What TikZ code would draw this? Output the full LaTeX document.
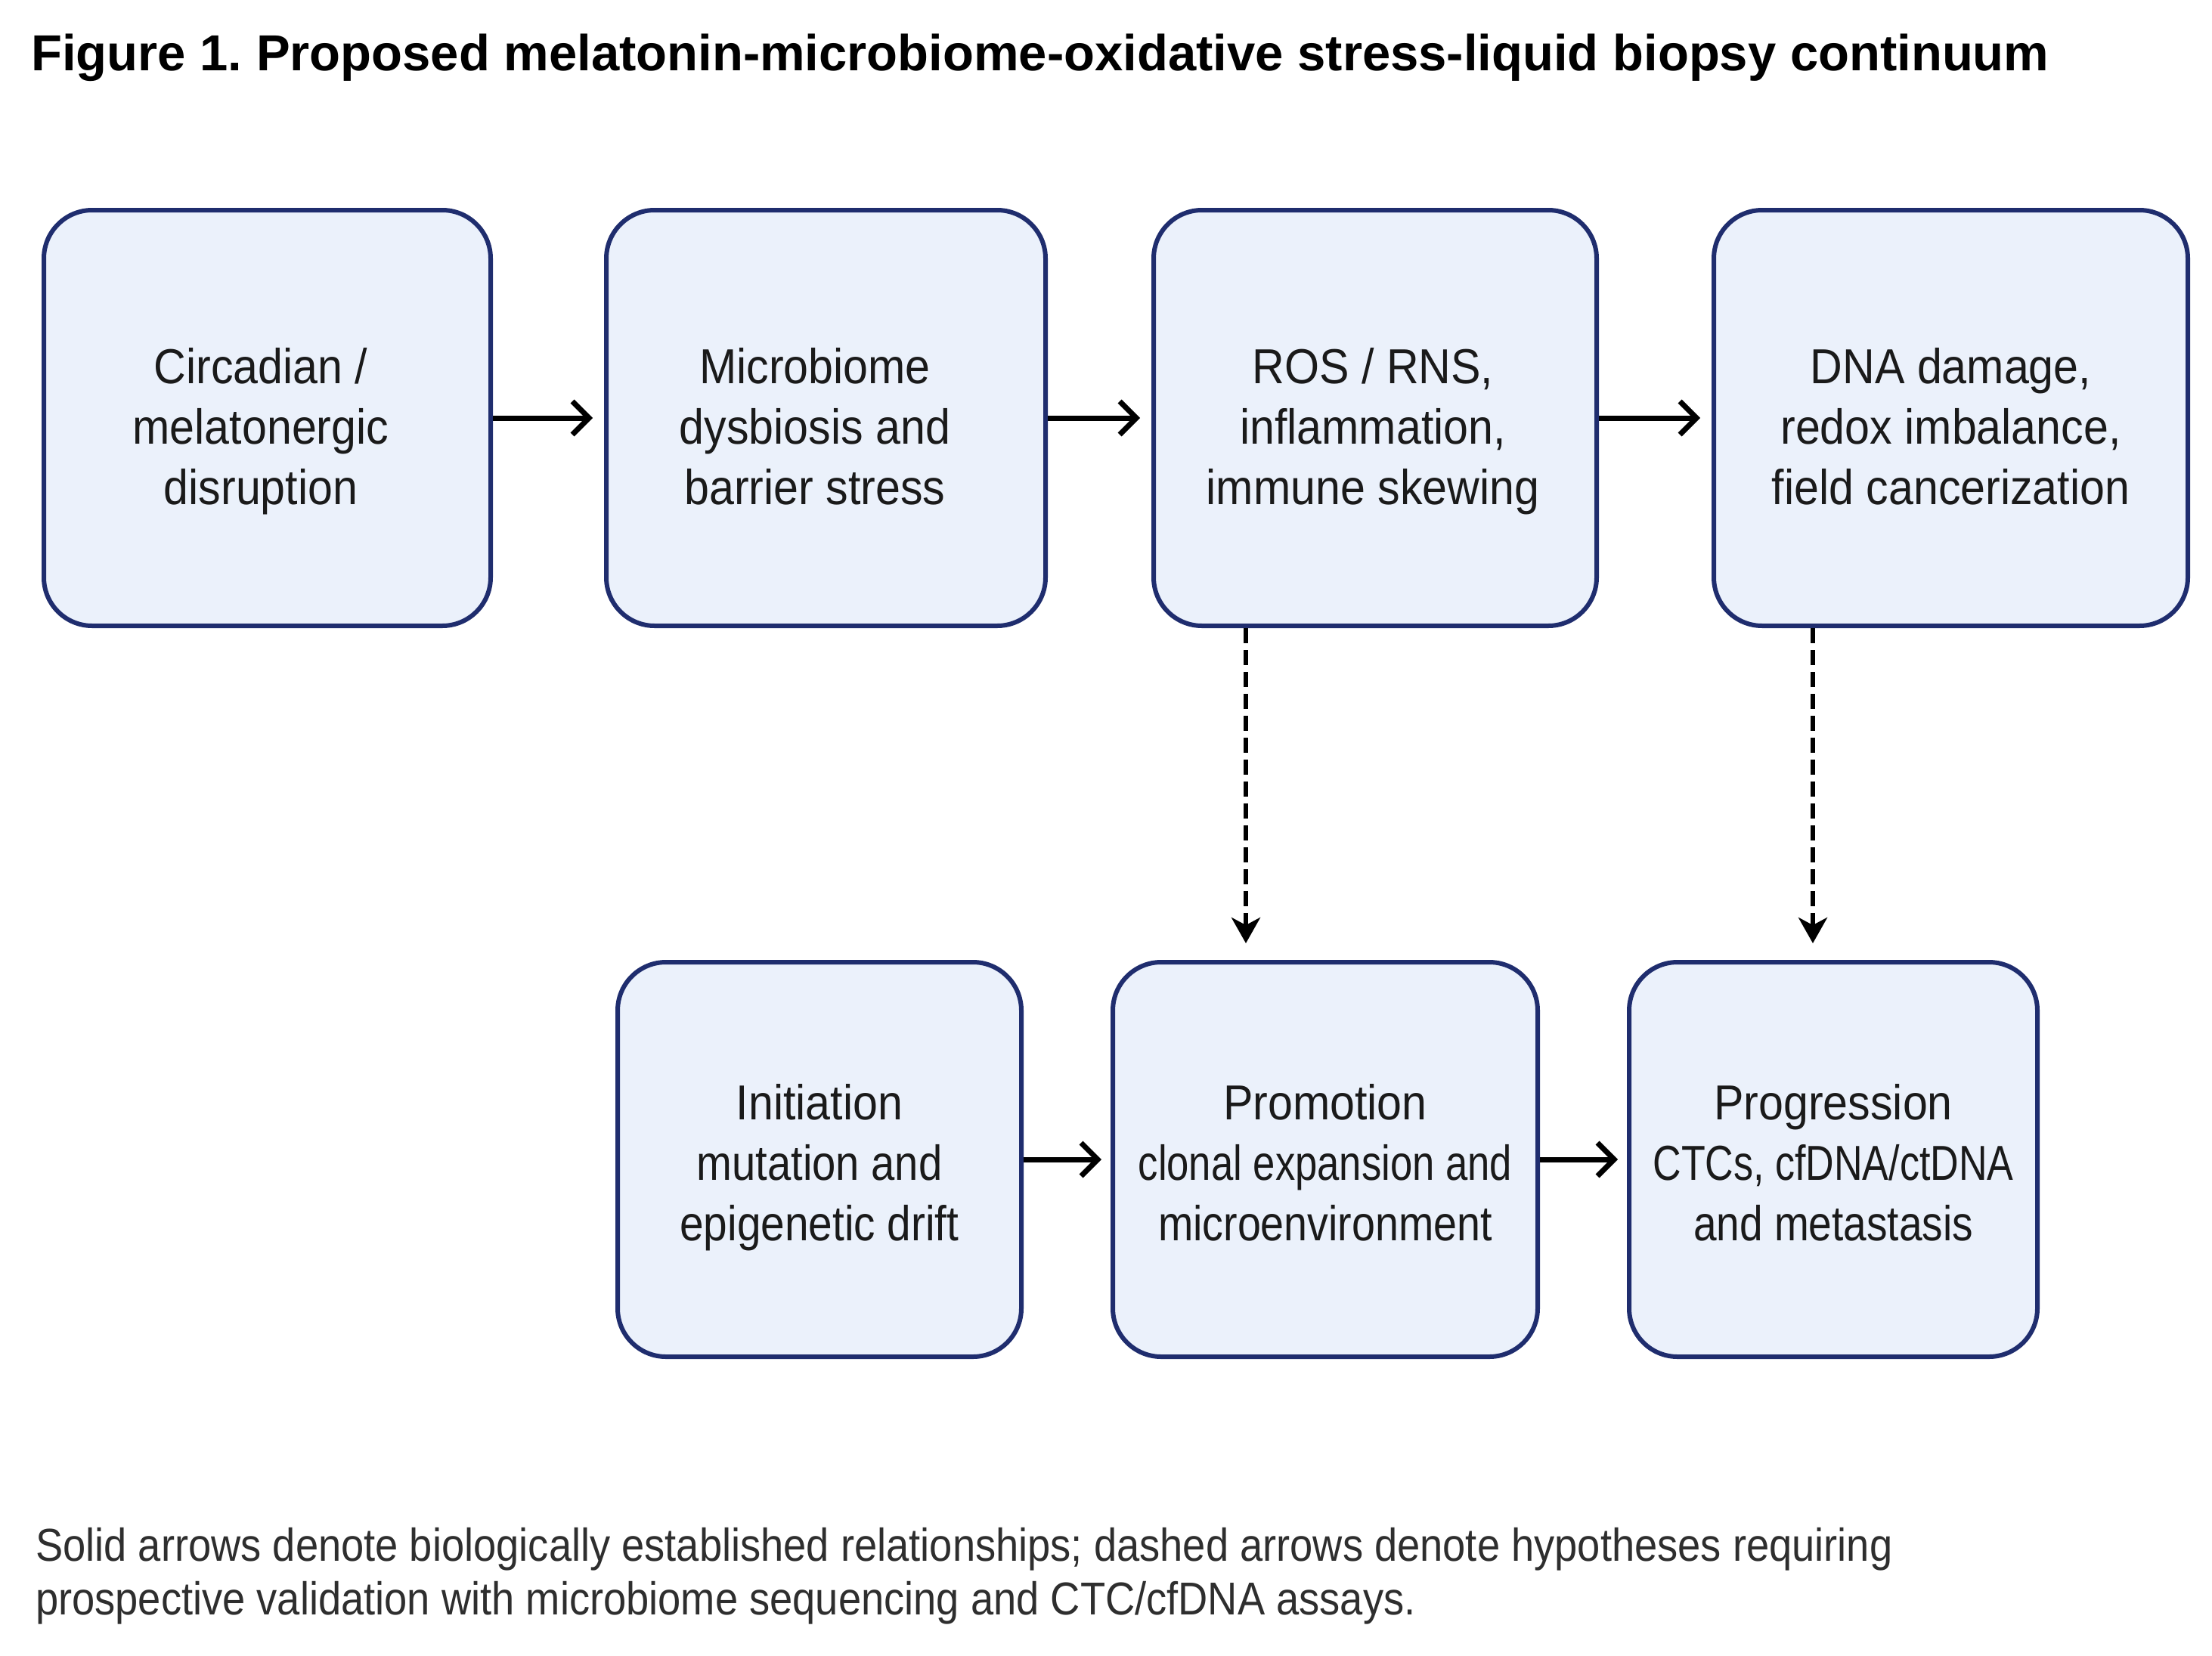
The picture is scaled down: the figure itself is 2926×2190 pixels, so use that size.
\documentclass[tikz,border=0pt]{standalone}
\usepackage{fontspec}
\setmainfont{Liberation Sans}
\newfontfamily\boxfont[FakeStretch=0.91]{Liberation Sans}
\newfontfamily\capfont[FakeStretch=0.89]{Liberation Sans}
\usetikzlibrary{arrows.meta}
\frenchspacing
\definecolor{boxfill}{HTML}{EBF1FB}
\definecolor{boxline}{HTML}{1F2D6E}
\definecolor{txt}{HTML}{1A1A1A}
\definecolor{captxt}{HTML}{2E2E2E}
\newcommand{\sq}[2]{\scalebox{#1}[1]{#2}}
\tikzset{
  stage/.style={draw=boxline, fill=boxfill, line width=6pt, rounded corners=64pt,
    inner sep=0pt},
  stagetext/.style={anchor=base, align=center, inner sep=0pt, text=txt,
    font=\boxfont\fontsize{65}{80}\selectfont},
  solidarrow/.style={line width=7pt, -{Straight Barb[length=22pt,width=44pt,line width=7pt]}},
  dasharrow/.style={line width=6pt, dash pattern=on 20pt off 9pt,
    -{Stealth[length=34pt,width=38pt,inset=10pt]}}
}
\begin{document}
\begin{tikzpicture}[x=1pt,y=-1pt]
\useasboundingbox[fill=white] (0,0) rectangle (2926,2190);
% title
\node[anchor=base west, inner sep=0pt, font=\bfseries\fontsize{67}{78}\selectfont] (title) at (41,93)
  {Figure 1. Proposed melatonin-microbiome-oxidative stress-liquid biopsy continuum};
% top row
\node[stage, minimum width=591pt, minimum height=550pt] (b1) at (353.5,553) {};
\node[stage, minimum width=581pt, minimum height=550pt] (b2) at (1092.5,553) {};
\node[stage, minimum width=586pt, minimum height=550pt] (b3) at (1819,553) {};
\node[stage, minimum width=627pt, minimum height=550pt] (b4) at (2580.5,553) {};
\node[stagetext] (t1) at (345,667) {Circadian /\\melatonergic\\disruption};
\node[stagetext] (t2) at (1078,667) {Microbiome\\dysbiosis and\\barrier stress};
\node[stagetext] (t3) at (1816,667) {ROS / RNS,\\inflammation,\\immune skewing};
\node[stagetext] (t4) at (2580.5,667) {DNA damage,\\redox imbalance,\\field cancerization};
% bottom row
\node[stage, minimum width=534pt, minimum height=522pt] (b5) at (1084,1534) {};
\node[stage, minimum width=562pt, minimum height=522pt] (b6) at (1753,1534) {};
\node[stage, minimum width=540pt, minimum height=522pt] (b7) at (2425,1534) {};
\node[stagetext] (t5) at (1084,1641)
  {Initiation\\\sq{0.95}{mutation and}\\\sq{0.96}{epigenetic drift}};
\node[stagetext] (t6) at (1753,1641)
  {Promotion\\\sq{0.89}{clonal expansion and}\\\sq{0.94}{microenvironment}};
\node[stagetext] (t7) at (2425,1641)
  {Progression\\\sq{0.88}{CTCs, cfDNA/ctDNA}\\\sq{0.93}{and metastasis}};
% solid arrows
\draw[solidarrow, shorten >=15pt] (b1.east) -- (b2.west);
\draw[solidarrow, shorten >=15pt] (b2.east) -- (b3.west);
\draw[solidarrow, shorten >=15pt] (b3.east) -- (b4.west);
\draw[solidarrow, shorten >=12pt] (b5.east) -- (b6.west);
\draw[solidarrow, shorten >=12pt] (b6.east) -- (b7.west);
% dashed arrows
\coordinate (d1s) at (1648,831);
\coordinate (d1e) at (1648,1248);
\coordinate (d2s) at (2398,831);
\coordinate (d2e) at (2398,1248);
\draw[dasharrow] (d1s) -- (d1e);
\draw[dasharrow] (d2s) -- (d2e);
% caption
\node[anchor=base west, inner sep=0pt, align=left, text=captxt,
  font=\capfont\fontsize{61}{71}\selectfont] (cap) at (47,2136)
  {Solid arrows denote biologically established relationships; dashed arrows denote hypotheses requiring\\
   prospective validation with microbiome sequencing and CTC/cfDNA assays.};
\end{tikzpicture}
\end{document}
